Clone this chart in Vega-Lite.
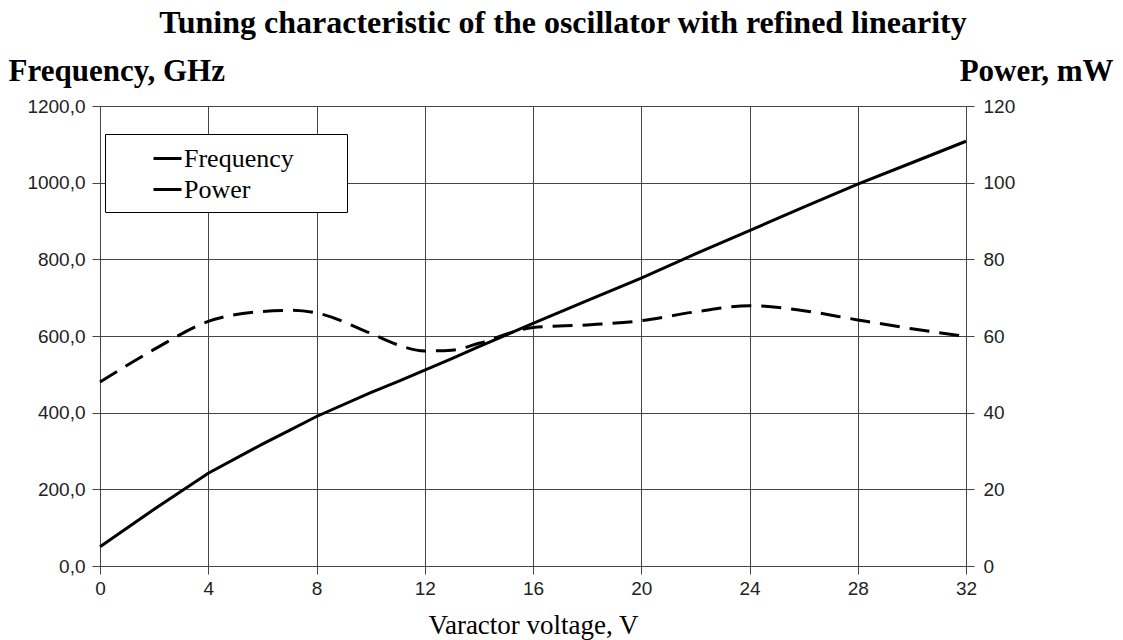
{
  "$schema": "https://vega.github.io/schema/vega-lite/v6.json",
  "width": 866,
  "height": 460,
  "autosize": {"type": "none"},
  "padding": {"left": 100, "top": 106, "right": 157, "bottom": 74},
  "background": "white",
  "title": {
    "text": "Tuning characteristic of the oscillator with refined linearity",
    "font": "Liberation Serif",
    "fontSize": 32,
    "fontWeight": "bold",
    "color": "black",
    "anchor": "middle",
    "frame": "group",
    "dx": 30,
    "offset": 15
  },
  "config": {
    "view": {"stroke": null},
    "axis": {
      "labelFont": "Liberation Sans",
      "labelFontSize": 19,
      "labelColor": "#222",
      "labelFlush": false,
      "gridColor": "#444",
      "gridWidth": 1,
      "gridOpacity": 1,
      "domainColor": "#444",
      "tickColor": "#444",
      "tickSize": 8,
      "titleFont": "Liberation Serif",
      "titleColor": "black"
    }
  },
  "data": {
    "values": [
      {"v": 0, "freq": 50, "power": 48},
      {"v": 2, "freq": 148, "power": 56.5},
      {"v": 4, "freq": 242, "power": 63.8},
      {"v": 6, "freq": 318, "power": 66.4},
      {"v": 7, "freq": 354, "power": 66.7},
      {"v": 8, "freq": 390, "power": 66},
      {"v": 10, "freq": 452, "power": 60.7},
      {"v": 11, "freq": 481, "power": 57.7},
      {"v": 12, "freq": 511, "power": 56.1},
      {"v": 13, "freq": 541, "power": 56.3},
      {"v": 14, "freq": 572, "power": 58.1},
      {"v": 16, "freq": 633, "power": 62.2},
      {"v": 18, "freq": 692, "power": 62.9},
      {"v": 20, "freq": 751, "power": 64},
      {"v": 22, "freq": 814, "power": 66.3},
      {"v": 24, "freq": 875, "power": 67.9},
      {"v": 26, "freq": 936, "power": 66.6},
      {"v": 28, "freq": 996, "power": 64.2},
      {"v": 30, "freq": 1052, "power": 61.9},
      {"v": 32, "freq": 1108, "power": 59.9}
    ]
  },
  "encoding": {
    "x": {
      "field": "v",
      "type": "quantitative",
      "scale": {"domain": [0, 32], "nice": false, "zero": false},
      "axis": {
        "values": [0, 4, 8, 12, 16, 20, 24, 28, 32],
        "title": "Varactor voltage, V",
        "titleFontSize": 27,
        "titleFontWeight": "normal",
        "titleBaseline": "alphabetic",
        "titleY": 67,
        "labelPadding": 5,
        "grid": true
      }
    },
    "color": {
      "datum": "Frequency",
      "type": "nominal",
      "scale": {"domain": ["Frequency", "Power"], "range": ["black", "black"]},
      "legend": {
        "orient": "none",
        "legendX": 5,
        "legendY": 28,
        "title": "\u00a0",
        "titleOrient": "right",
        "titlePadding": 44,
        "titleFontSize": 10,
        "strokeColor": "black",
        "fillColor": "white",
        "padding": 9,
        "symbolType": "stroke",
        "symbolStrokeWidth": 3,
        "symbolSize": 784,
        "symbolOffset": 38,
        "symbolStrokeColor": "black",
        "labelOffset": 1,
        "labelFont": "Liberation Serif",
        "labelFontSize": 26,
        "labelColor": "black",
        "rowPadding": 2
      }
    }
  },
  "layer": [
    {
      "mark": {"type": "line", "strokeWidth": 3, "color": "black"},
      "encoding": {
        "y": {
          "field": "freq",
          "type": "quantitative",
          "scale": {"domain": [0, 1200], "nice": false},
          "axis": {
            "orient": "left",
            "values": [0, 200, 400, 600, 800, 1000, 1200],
            "labelExpr": "replace(format(datum.value, '.1f'), '.', ',')",
            "labelPadding": 7,
            "grid": true,
            "title": "Frequency, GHz",
            "titleFontSize": 31,
            "titleFontWeight": "bold",
            "titleAngle": 0,
            "titleAlign": "left",
            "titleBaseline": "alphabetic",
            "titleX": -92,
            "titleY": -26
          }
        },
        "color": {"datum": "Frequency", "type": "nominal"}
      }
    },
    {
      "mark": {"type": "line", "strokeWidth": 3, "color": "black", "strokeDash": [20, 10], "interpolate": "monotone"},
      "encoding": {
        "y": {
          "field": "power",
          "type": "quantitative",
          "scale": {"domain": [0, 120], "nice": false},
          "axis": {
            "orient": "right",
            "values": [0, 20, 40, 60, 80, 100, 120],
            "labelPadding": 9,
            "grid": false,
            "title": "Power, mW",
            "titleFontSize": 31,
            "titleFontWeight": "bold",
            "titleAngle": 0,
            "titleAlign": "right",
            "titleBaseline": "alphabetic",
            "titleX": 147,
            "titleY": -26
          }
        },
        "color": {"datum": "Power", "type": "nominal"}
      }
    }
  ],
  "resolve": {"scale": {"y": "independent"}}
}
